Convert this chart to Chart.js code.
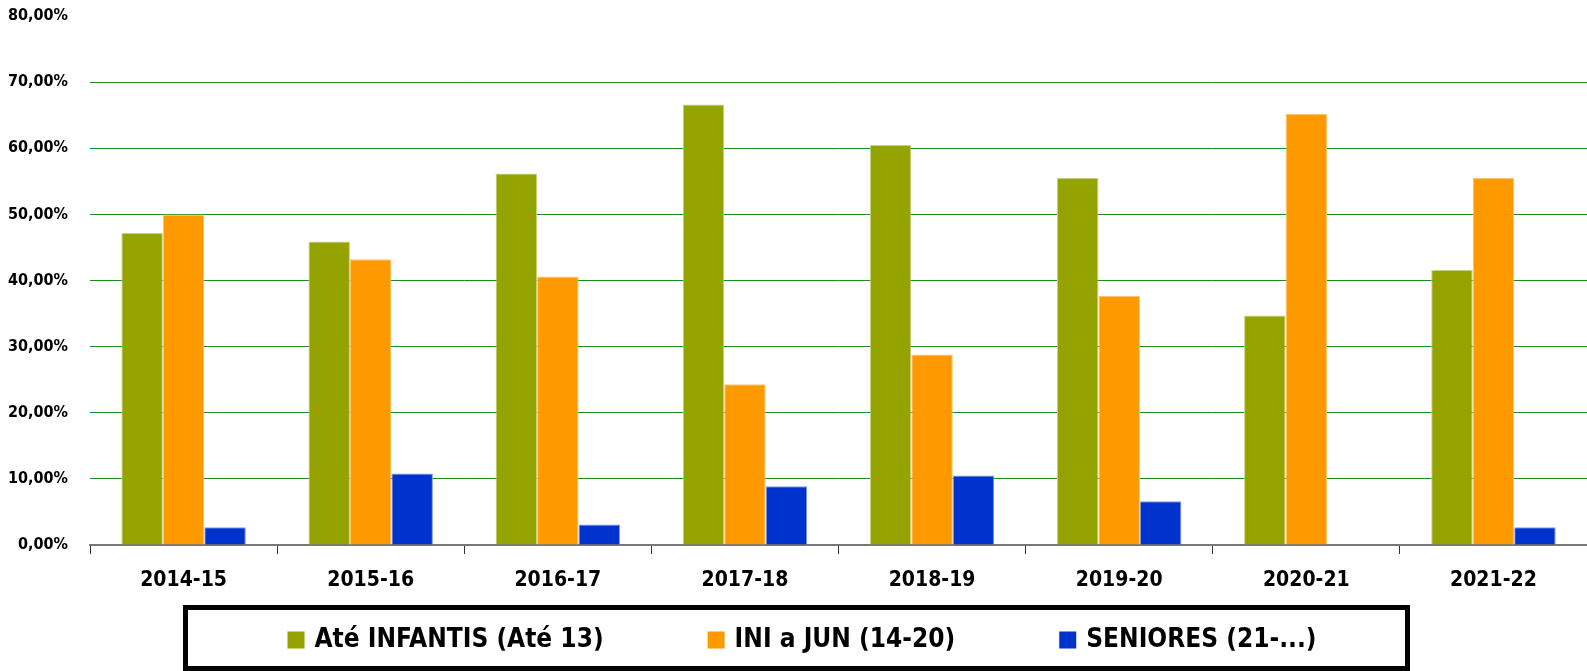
<!DOCTYPE html>
<html>
<head>
<meta charset="utf-8">
<script src="https://cdn.jsdelivr.net/npm/chart.js@4.4.1/dist/chart.umd.min.js"></script>
<style>
    html, body { margin: 0; padding: 0; background: #fff; }
    #wrap { width: 1587px; height: 671px; }
</style>
</head>
<body>
<div id="wrap"><canvas id="chart" width="1587" height="671"></canvas></div>
<script>
// seasons on the x axis
const seasons = ['2014-15', '2015-16', '2016-17', '2017-18', '2018-19', '2019-20', '2020-21', '2021-22'];

// percentage of athletes per age group
const ateInfantis = [47.2, 45.9, 56.2, 66.6, 60.5, 55.5, 34.7, 41.6];
const iniJun = [50.0, 43.2, 40.6, 24.3, 28.8, 37.7, 65.2, 55.5];
const seniores = [2.7, 10.8, 3.1, 8.9, 10.5, 6.6, 0, 2.7];

const seriesNames = ['Até INFANTIS (Até 13)', 'INI a JUN (14-20)', 'SENIORES (21-...)'];
const seriesColors = ['#94A300', '#FF9900', '#0033CC'];
const seriesBorders = ['#C9D27A', '#FFC870', '#7F99E6'];

const FONT = "'Liberation Sans Narrow', 'DejaVu Sans Condensed', 'Arial Narrow', sans-serif";

// legend drawn by hand inside a black frame, below the axis
const boxedLegend = {
    id: 'boxedLegend',
    afterDraw(chart) {
        const ctx = chart.ctx;
        ctx.save();
        ctx.lineWidth = 5;
        ctx.strokeStyle = '#000';
        ctx.strokeRect(185.5, 607.5, 1222, 61);

        ctx.font = 'bold 26px ' + FONT;
        ctx.textBaseline = 'middle';
        const box = 17, gap = 10, spacing = 104;
        const widths = seriesNames.map(n => ctx.measureText(n).width);
        let total = 0;
        widths.forEach((w, i) => { total += box + gap + w + (i > 0 ? spacing : 0); });
        let x = 802 - total / 2;
        const y = 639;
        chart.data.datasets.forEach((ds, i) => {
            ctx.fillStyle = ds.backgroundColor;
            ctx.fillRect(x, y - box / 2 + 1, box, box);
            x += box + gap;
            ctx.fillStyle = '#000';
            ctx.fillText(ds.label, x, y + 1);
            x += widths[i] + spacing;
        });
        ctx.restore();
    }
};

const ctx = document.getElementById('chart').getContext('2d');
// eslint-disable-next-line no-undef, no-unused-vars
const chart = new Chart(ctx, {
    type: 'bar',
    data: {
        labels: seasons,
        datasets: [ateInfantis, iniJun, seniores].map((values, i) => ({
            label: seriesNames[i],
            data: values,
            backgroundColor: seriesColors[i],
            borderColor: seriesBorders[i],
            borderWidth: 1,
            barPercentage: 1,
            categoryPercentage: 0.665
        }))
    },
    options: {
        responsive: false,
        animation: false,
        devicePixelRatio: 1,
        layout: { padding: { top: 16, right: 0, bottom: 0, left: 0 } },
        plugins: {
            legend: { display: false },
            tooltip: { enabled: false }
        },
        scales: {
            x: {
                afterFit: scale => { scale.height = 126; },
                grid: {
                    drawOnChartArea: false,
                    drawTicks: true,
                    tickLength: 9,
                    color: '#333'
                },
                border: { color: '#777', width: 2 },
                ticks: {
                    color: '#000',
                    padding: 14,
                    font: { family: FONT, size: 21, weight: 'bold' }
                }
            },
            y: {
                min: 0,
                max: 80,
                afterFit: scale => {
                    scale.width = 90;
                    scale.paddingTop = 0;
                    scale.paddingBottom = 0;
                },
                grid: {
                    drawTicks: false,
                    color: c => (c.tick.value === 80 || c.tick.value === 0) ? 'rgba(0,0,0,0)' : '#1a8c1a',
                    lineWidth: 1
                },
                border: { display: false },
                ticks: {
                    stepSize: 10,
                    padding: 22,
                    color: '#000',
                    font: { family: FONT, size: 16, weight: 'bold' },
                    callback: v => v.toFixed(2).replace('.', ',') + '%'
                }
            }
        }
    },
    plugins: [boxedLegend]
});
</script>
</body>
</html>
